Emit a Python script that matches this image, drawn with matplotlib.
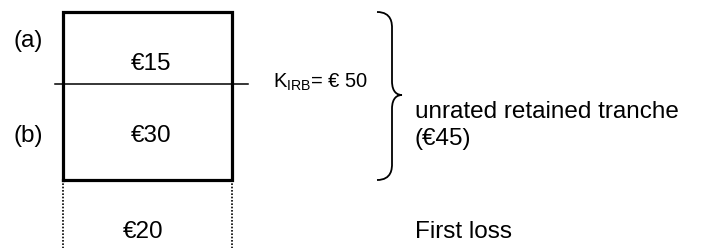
import matplotlib.pyplot as plt
from matplotlib.path import Path
from matplotlib.patches import PathPatch

plt.rcParams["font.family"] = ["Liberation Sans", "DejaVu Sans"]
plt.rcParams["mathtext.fontset"] = "custom"
plt.rcParams["mathtext.rm"] = "Liberation Sans"

# tranche content (top to bottom)
tranche_labels = ["€15", "€30", "€20"]
side_marks = ["(a)", "(b)"]
kirb_label = r"K$_{\mathrm{IRB}}$= € 50"
retained_lines = ["unrated retained tranche", "(€45)"]
first_loss_label = "First loss"

# layout in pixel units (y grows downward)
W, H = 709, 248
box_left, box_right = 63, 232
box_top, kirb_y, box_bottom = 12, 84, 180

fig = plt.figure(figsize=(W / 100, H / 100), dpi=100)
ax = fig.add_axes([0, 0, 1, 1])
ax.set_xlim(0, W)
ax.set_ylim(H, 0)
ax.axis("off")

# solid box for (a)+(b)
ax.plot([box_left, box_left, box_right, box_right, box_left],
        [box_bottom, box_top, box_top, box_bottom, box_bottom],
        color="black", lw=2.3, solid_joinstyle="miter")
# K_IRB line
ax.plot([55, 248], [kirb_y, kirb_y], color="black", lw=1.1)
# dotted first loss sides
for x in (box_left, box_right):
    ax.plot([x, x], [box_bottom, H + 2], color="black", lw=1.2, ls=(0, (1, 1)))

fs = 17.5
for lab, x, y in zip(tranche_labels, [151, 151, 143], [70, 142, 238]):
    ax.text(x, y, lab, ha="center", va="baseline", fontsize=fs)
for lab, y in zip(side_marks, [47, 142]):
    ax.text(28, y, lab, ha="center", va="baseline", fontsize=fs)

ax.text(273, 88, kirb_label, ha="left", va="baseline", fontsize=14.5)

# curly brace
bx0, bx1, tip_y = 377, 402, 95
bm = 392
verts = [
    (bx0, box_top), (bm, box_top), (bm, box_top + 12), (bm, box_top + 16),
    (bm, tip_y - 14),
    (bm, tip_y - 2), (bx1 - 4, tip_y), (bx1, tip_y),
    (bx1 - 4, tip_y), (bm, tip_y + 2), (bm, tip_y + 14),
    (bm, box_bottom - 16),
    (bm, box_bottom - 12), (bm, box_bottom), (bx0, box_bottom),
]
codes = [Path.MOVETO, Path.CURVE4, Path.CURVE4, Path.CURVE4,
         Path.LINETO,
         Path.CURVE4, Path.CURVE4, Path.CURVE4,
         Path.CURVE4, Path.CURVE4, Path.CURVE4,
         Path.LINETO,
         Path.CURVE4, Path.CURVE4, Path.CURVE4]
ax.add_patch(PathPatch(Path(verts, codes), fill=False, lw=1.3, color="black"))

for lab, y in zip(retained_lines, [118, 145]):
    ax.text(415, y, lab, ha="left", va="baseline", fontsize=fs)
ax.text(415, 238, first_loss_label, ha="left", va="baseline", fontsize=fs)

fig.savefig("out.png", dpi=100)
